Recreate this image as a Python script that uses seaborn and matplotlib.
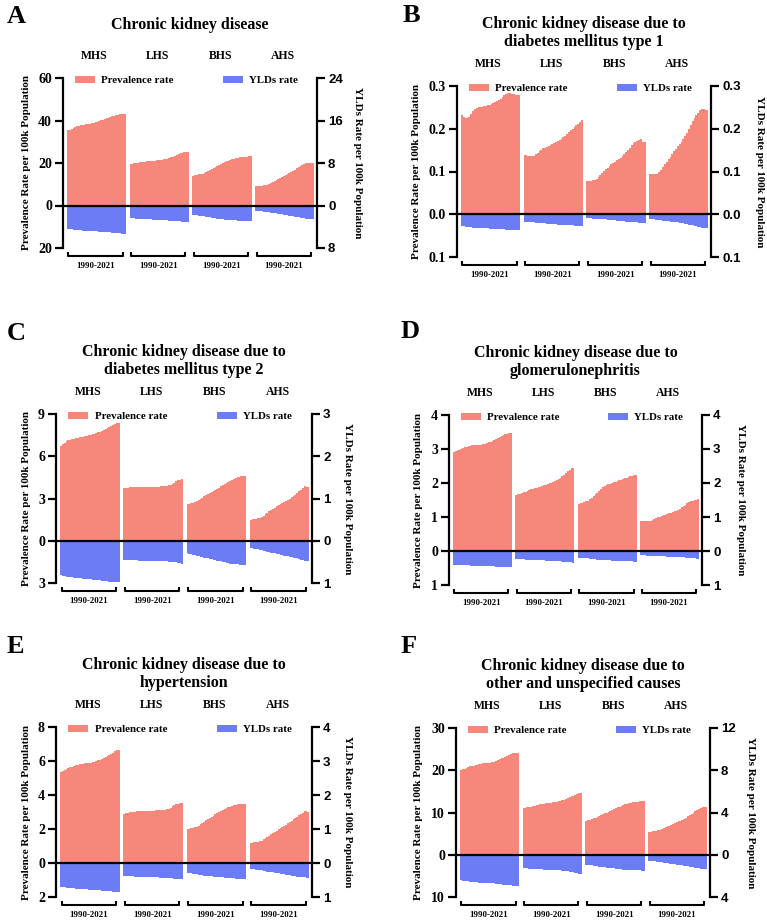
import matplotlib
matplotlib.use("Agg")
import matplotlib.pyplot as plt
import matplotlib.transforms as mtransforms
from matplotlib.patches import Patch
import numpy as np
import pandas as pd
import seaborn as sns

sns.set_theme(style="ticks")
plt.rcParams["font.family"] = ["Liberation Serif", "DejaVu Serif"]
plt.rcParams["font.weight"] = "bold"
for key in ["text.color", "axes.labelcolor", "xtick.color", "ytick.color", "axes.edgecolor"]:
    plt.rcParams[key] = "black"

groups = ["MHS", "LHS", "BHS", "AHS"]
year_label = "1990-2021"
PREV_C = "#F8877B"
YLD_C = "#6C7CF5"

# ---- data: rates per 100k, 1990..2021, one list per region (MHS, LHS, BHS, AHS)
a_prev = [
    [35.3, 35.6, 36.0, 36.4, 36.8, 37.2, 37.5, 37.8, 38.0, 38.1, 38.2, 38.3, 38.4, 38.6, 38.9, 39.2,
     39.5, 39.8, 40.1, 40.4, 40.7, 41.0, 41.3, 41.6, 42.0, 42.3, 42.6, 42.8, 42.9, 43.0, 43.0, 42.9],
    [19.4, 19.6, 19.8, 20.0, 20.2, 20.4, 20.5, 20.6, 20.7, 20.8, 20.8, 20.9, 21.0, 21.1, 21.2, 21.3,
     21.4, 21.5, 21.7, 21.9, 22.1, 22.3, 22.6, 22.9, 23.3, 23.7, 24.1, 24.5, 24.8, 25.0, 25.1, 25.1],
    [14.0, 14.2, 14.4, 14.6, 14.8, 15.0, 15.3, 15.8, 16.3, 16.8, 17.3, 17.8, 18.3, 18.8, 19.2, 19.6,
     20.0, 20.4, 20.8, 21.1, 21.4, 21.7, 22.0, 22.2, 22.4, 22.6, 22.7, 22.8, 22.9, 23.0, 23.1, 23.1],
    [9.1, 9.2, 9.3, 9.4, 9.5, 9.6, 9.8, 10.2, 10.6, 11.0, 11.4, 11.8, 12.3, 12.8, 13.3, 13.8,
     14.3, 14.8, 15.3, 15.8, 16.3, 16.9, 17.5, 18.1, 18.7, 19.2, 19.6, 19.9, 20.1, 20.2, 20.1, 20.0],
]
a_ylds = [
    [4.40, 4.45, 4.50, 4.55, 4.60, 4.63, 4.66, 4.69, 4.72, 4.74, 4.76, 4.78, 4.80, 4.82, 4.84, 4.86,
     4.88, 4.90, 4.92, 4.95, 4.98, 5.01, 5.04, 5.07, 5.10, 5.14, 5.18, 5.22, 5.26, 5.30, 5.32, 5.33],
    [2.40, 2.42, 2.44, 2.46, 2.48, 2.50, 2.52, 2.54, 2.56, 2.58, 2.60, 2.62, 2.64, 2.66, 2.68, 2.70,
     2.72, 2.74, 2.76, 2.78, 2.80, 2.83, 2.86, 2.89, 2.92, 2.95, 2.98, 3.01, 3.04, 3.07, 3.09, 3.10],
    [1.75, 1.80, 1.85, 1.90, 1.95, 2.00, 2.06, 2.12, 2.18, 2.24, 2.30, 2.36, 2.41, 2.46, 2.51, 2.56,
     2.60, 2.64, 2.68, 2.72, 2.75, 2.78, 2.80, 2.82, 2.84, 2.86, 2.87, 2.88, 2.89, 2.90, 2.90, 2.90],
    [1.05, 1.07, 1.09, 1.11, 1.13, 1.15, 1.20, 1.26, 1.32, 1.38, 1.44, 1.50, 1.56, 1.62, 1.68, 1.74,
     1.80, 1.86, 1.92, 1.98, 2.04, 2.10, 2.17, 2.24, 2.31, 2.38, 2.44, 2.50, 2.54, 2.56, 2.56, 2.56],
]

b_prev = [
    [0.231, 0.228, 0.225, 0.225, 0.227, 0.235, 0.242, 0.247, 0.249, 0.250, 0.251, 0.252, 0.253, 0.254, 0.255, 0.256,
     0.258, 0.260, 0.262, 0.264, 0.267, 0.270, 0.274, 0.278, 0.282, 0.283, 0.283, 0.282, 0.281, 0.280, 0.280, 0.279],
    [0.139, 0.138, 0.137, 0.136, 0.136, 0.137, 0.140, 0.144, 0.148, 0.151, 0.154, 0.156, 0.158, 0.160, 0.162, 0.164,
     0.166, 0.168, 0.171, 0.174, 0.177, 0.180, 0.184, 0.188, 0.192, 0.196, 0.200, 0.204, 0.208, 0.212, 0.216, 0.220],
    [0.078, 0.078, 0.078, 0.079, 0.080, 0.082, 0.087, 0.092, 0.097, 0.101, 0.105, 0.109, 0.113, 0.117, 0.120, 0.123,
     0.126, 0.129, 0.132, 0.136, 0.140, 0.145, 0.150, 0.156, 0.162, 0.167, 0.170, 0.172, 0.174, 0.175, 0.168, 0.170],
    [0.093, 0.093, 0.093, 0.094, 0.095, 0.098, 0.103, 0.110, 0.117, 0.123, 0.129, 0.135, 0.141, 0.147, 0.153, 0.159,
     0.165, 0.170, 0.176, 0.183, 0.191, 0.199, 0.208, 0.217, 0.225, 0.232, 0.238, 0.243, 0.246, 0.246, 0.244, 0.243],
]
b_ylds = [
    [0.028, 0.028, 0.029, 0.029, 0.030, 0.030, 0.031, 0.031, 0.032, 0.032, 0.032, 0.033, 0.033, 0.033, 0.033, 0.034,
     0.034, 0.034, 0.034, 0.035, 0.035, 0.035, 0.035, 0.035, 0.036, 0.036, 0.036, 0.036, 0.036, 0.036, 0.036, 0.036],
    [0.018, 0.018, 0.018, 0.019, 0.019, 0.019, 0.020, 0.020, 0.020, 0.021, 0.021, 0.021, 0.022, 0.022, 0.022, 0.023,
     0.023, 0.023, 0.024, 0.024, 0.024, 0.025, 0.025, 0.025, 0.026, 0.026, 0.026, 0.027, 0.027, 0.027, 0.028, 0.028],
    [0.009, 0.009, 0.009, 0.010, 0.010, 0.010, 0.011, 0.011, 0.012, 0.012, 0.012, 0.013, 0.013, 0.014, 0.014, 0.014,
     0.015, 0.015, 0.016, 0.016, 0.016, 0.017, 0.017, 0.018, 0.018, 0.019, 0.019, 0.019, 0.020, 0.020, 0.020, 0.020],
    [0.012, 0.012, 0.012, 0.013, 0.013, 0.014, 0.014, 0.015, 0.015, 0.016, 0.016, 0.017, 0.017, 0.018, 0.018, 0.019,
     0.020, 0.020, 0.021, 0.022, 0.023, 0.024, 0.025, 0.026, 0.027, 0.028, 0.029, 0.030, 0.031, 0.031, 0.032, 0.032],
]

c_prev = [
    [6.75, 6.85, 6.95, 7.05, 7.12, 7.18, 7.22, 7.26, 7.30, 7.33, 7.36, 7.38, 7.40, 7.42, 7.45, 7.48,
     7.52, 7.56, 7.60, 7.65, 7.70, 7.75, 7.80, 7.86, 7.92, 7.98, 8.05, 8.12, 8.20, 8.28, 8.34, 8.38],
    [3.72, 3.75, 3.77, 3.79, 3.80, 3.81, 3.81, 3.82, 3.82, 3.82, 3.82, 3.82, 3.82, 3.82, 3.82, 3.83,
     3.83, 3.84, 3.84, 3.85, 3.86, 3.87, 3.88, 3.90, 3.93, 3.98, 4.05, 4.13, 4.21, 4.28, 4.33, 4.35],
    [2.59, 2.63, 2.67, 2.71, 2.75, 2.79, 2.86, 2.95, 3.05, 3.15, 3.25, 3.33, 3.40, 3.47, 3.54, 3.62,
     3.70, 3.78, 3.86, 3.94, 4.02, 4.10, 4.18, 4.26, 4.34, 4.42, 4.48, 4.52, 4.55, 4.57, 4.58, 4.59],
    [1.48, 1.51, 1.54, 1.57, 1.60, 1.64, 1.69, 1.78, 1.88, 1.98, 2.08, 2.18, 2.27, 2.36, 2.44, 2.52,
     2.60, 2.68, 2.76, 2.84, 2.92, 3.00, 3.09, 3.18, 3.28, 3.38, 3.50, 3.62, 3.74, 3.86, 3.84, 3.81],
]
c_ylds = [
    [0.82, 0.83, 0.84, 0.85, 0.855, 0.86, 0.865, 0.87, 0.875, 0.88, 0.885, 0.89, 0.895, 0.90, 0.905, 0.91,
     0.915, 0.92, 0.925, 0.93, 0.935, 0.94, 0.945, 0.95, 0.955, 0.96, 0.965, 0.97, 0.975, 0.98, 0.98, 0.98],
    [0.455, 0.457, 0.459, 0.461, 0.463, 0.465, 0.466, 0.467, 0.468, 0.469, 0.470, 0.471, 0.472, 0.473, 0.474, 0.475,
     0.476, 0.477, 0.478, 0.480, 0.482, 0.484, 0.486, 0.489, 0.492, 0.496, 0.501, 0.507, 0.514, 0.522, 0.531, 0.540],
    [0.30, 0.31, 0.32, 0.33, 0.34, 0.35, 0.36, 0.375, 0.39, 0.40, 0.41, 0.42, 0.43, 0.44, 0.45, 0.46,
     0.47, 0.48, 0.49, 0.50, 0.51, 0.52, 0.53, 0.54, 0.545, 0.55, 0.555, 0.56, 0.565, 0.57, 0.57, 0.57],
    [0.17, 0.18, 0.185, 0.19, 0.20, 0.21, 0.22, 0.235, 0.25, 0.26, 0.27, 0.28, 0.29, 0.30, 0.31, 0.32,
     0.33, 0.34, 0.35, 0.36, 0.37, 0.38, 0.39, 0.40, 0.41, 0.42, 0.43, 0.445, 0.46, 0.475, 0.485, 0.49],
]

d_prev = [
    [2.92, 2.94, 2.96, 2.98, 3.00, 3.03, 3.05, 3.07, 3.09, 3.10, 3.11, 3.12, 3.12, 3.12, 3.12, 3.13,
     3.14, 3.16, 3.18, 3.20, 3.22, 3.24, 3.26, 3.28, 3.31, 3.34, 3.37, 3.40, 3.43, 3.45, 3.46, 3.46],
    [1.66, 1.67, 1.69, 1.71, 1.73, 1.75, 1.77, 1.79, 1.81, 1.83, 1.85, 1.86, 1.87, 1.89, 1.91, 1.93,
     1.95, 1.97, 1.99, 2.01, 2.04, 2.07, 2.10, 2.13, 2.16, 2.20, 2.24, 2.29, 2.34, 2.39, 2.43, 2.45],
    [1.38, 1.40, 1.42, 1.44, 1.46, 1.48, 1.52, 1.57, 1.62, 1.67, 1.72, 1.77, 1.82, 1.87, 1.91, 1.94,
     1.96, 1.98, 2.00, 2.02, 2.04, 2.06, 2.08, 2.10, 2.12, 2.14, 2.16, 2.18, 2.20, 2.22, 2.24, 2.25],
    [0.87, 0.87, 0.87, 0.87, 0.88, 0.88, 0.90, 0.93, 0.96, 0.99, 1.01, 1.03, 1.05, 1.07, 1.09, 1.11,
     1.13, 1.15, 1.17, 1.19, 1.22, 1.25, 1.28, 1.32, 1.36, 1.40, 1.43, 1.46, 1.48, 1.50, 1.51, 1.52],
]
d_ylds = [
    [0.40, 0.40, 0.41, 0.41, 0.41, 0.42, 0.42, 0.42, 0.42, 0.43, 0.43, 0.43, 0.43, 0.43, 0.44, 0.44,
     0.44, 0.44, 0.44, 0.45, 0.45, 0.45, 0.45, 0.46, 0.46, 0.46, 0.46, 0.47, 0.47, 0.47, 0.48, 0.48],
    [0.23, 0.23, 0.24, 0.24, 0.24, 0.25, 0.25, 0.25, 0.26, 0.26, 0.26, 0.26, 0.27, 0.27, 0.27, 0.27,
     0.28, 0.28, 0.28, 0.28, 0.29, 0.29, 0.29, 0.30, 0.30, 0.31, 0.31, 0.32, 0.32, 0.33, 0.33, 0.34],
    [0.20, 0.20, 0.21, 0.21, 0.22, 0.22, 0.23, 0.23, 0.24, 0.24, 0.25, 0.25, 0.26, 0.26, 0.26, 0.27,
     0.27, 0.27, 0.28, 0.28, 0.28, 0.28, 0.29, 0.29, 0.29, 0.29, 0.30, 0.30, 0.30, 0.30, 0.31, 0.31],
    [0.13, 0.13, 0.13, 0.14, 0.14, 0.14, 0.15, 0.15, 0.15, 0.15, 0.16, 0.16, 0.16, 0.16, 0.17, 0.17,
     0.17, 0.17, 0.18, 0.18, 0.18, 0.19, 0.19, 0.19, 0.20, 0.20, 0.21, 0.21, 0.22, 0.22, 0.23, 0.23],
]

e_prev = [
    [5.34, 5.40, 5.46, 5.52, 5.58, 5.63, 5.67, 5.71, 5.75, 5.78, 5.80, 5.82, 5.84, 5.86, 5.87, 5.88,
     5.90, 5.93, 5.96, 5.99, 6.03, 6.07, 6.11, 6.16, 6.21, 6.27, 6.34, 6.42, 6.50, 6.58, 6.62, 6.64],
    [2.90, 2.93, 2.96, 2.98, 3.00, 3.01, 3.02, 3.03, 3.03, 3.04, 3.04, 3.05, 3.05, 3.06, 3.06, 3.07,
     3.08, 3.09, 3.10, 3.11, 3.12, 3.13, 3.14, 3.16, 3.20, 3.26, 3.33, 3.40, 3.46, 3.50, 3.53, 3.54],
    [1.98, 2.01, 2.04, 2.07, 2.10, 2.14, 2.20, 2.27, 2.35, 2.43, 2.51, 2.58, 2.65, 2.72, 2.79, 2.86,
     2.92, 2.98, 3.04, 3.10, 3.16, 3.22, 3.27, 3.32, 3.37, 3.41, 3.44, 3.46, 3.47, 3.48, 3.48, 3.48],
    [1.18, 1.20, 1.22, 1.24, 1.26, 1.28, 1.32, 1.39, 1.46, 1.53, 1.60, 1.68, 1.76, 1.84, 1.91, 1.98,
     2.05, 2.12, 2.19, 2.26, 2.33, 2.40, 2.48, 2.56, 2.64, 2.72, 2.80, 2.88, 2.96, 3.03, 3.04, 3.02],
]
e_ylds = [
    [0.71, 0.715, 0.72, 0.725, 0.73, 0.735, 0.74, 0.745, 0.75, 0.755, 0.76, 0.764, 0.768, 0.772, 0.776, 0.78,
     0.784, 0.788, 0.792, 0.796, 0.80, 0.805, 0.81, 0.815, 0.82, 0.825, 0.83, 0.835, 0.84, 0.845, 0.85, 0.85],
    [0.38, 0.38, 0.385, 0.39, 0.39, 0.395, 0.40, 0.40, 0.405, 0.41, 0.41, 0.41, 0.415, 0.415, 0.42, 0.42,
     0.42, 0.425, 0.425, 0.43, 0.43, 0.435, 0.44, 0.44, 0.445, 0.45, 0.455, 0.46, 0.465, 0.47, 0.475, 0.48],
    [0.28, 0.29, 0.30, 0.31, 0.32, 0.33, 0.34, 0.35, 0.36, 0.37, 0.38, 0.385, 0.39, 0.395, 0.40, 0.405,
     0.41, 0.415, 0.42, 0.425, 0.43, 0.435, 0.44, 0.445, 0.45, 0.455, 0.46, 0.465, 0.47, 0.475, 0.48, 0.48],
    [0.18, 0.185, 0.19, 0.195, 0.20, 0.21, 0.22, 0.23, 0.24, 0.25, 0.26, 0.27, 0.275, 0.28, 0.29, 0.30,
     0.31, 0.32, 0.33, 0.34, 0.35, 0.36, 0.37, 0.38, 0.39, 0.40, 0.41, 0.415, 0.42, 0.425, 0.43, 0.43],
]

f_prev = [
    [20.0, 20.2, 20.4, 20.6, 20.8, 20.9, 21.0, 21.1, 21.2, 21.3, 21.4, 21.5, 21.6, 21.6, 21.7, 21.7,
     21.8, 21.9, 22.0, 22.2, 22.4, 22.6, 22.8, 23.0, 23.2, 23.4, 23.6, 23.8, 24.0, 24.1, 24.1, 24.1],
    [11.0, 11.1, 11.2, 11.3, 11.4, 11.5, 11.6, 11.7, 11.8, 11.9, 12.0, 12.1, 12.2, 12.2, 12.3, 12.3,
     12.4, 12.5, 12.6, 12.7, 12.8, 12.9, 13.0, 13.2, 13.4, 13.6, 13.8, 14.0, 14.2, 14.4, 14.6, 14.7],
    [8.1, 8.2, 8.3, 8.4, 8.6, 8.8, 9.0, 9.2, 9.4, 9.6, 9.8, 10.0, 10.2, 10.4, 10.6, 10.8,
     11.0, 11.2, 11.4, 11.6, 11.8, 12.0, 12.1, 12.2, 12.3, 12.4, 12.5, 12.6, 12.6, 12.7, 12.7, 12.7],
    [5.5, 5.5, 5.6, 5.6, 5.7, 5.8, 5.9, 6.1, 6.3, 6.5, 6.7, 6.9, 7.1, 7.3, 7.5, 7.7,
     7.9, 8.1, 8.3, 8.5, 8.8, 9.1, 9.4, 9.7, 10.0, 10.3, 10.6, 10.9, 11.1, 11.3, 11.4, 11.4],
]
f_ylds = [
    [2.41, 2.44, 2.47, 2.50, 2.52, 2.54, 2.56, 2.58, 2.60, 2.62, 2.63, 2.64, 2.65, 2.66, 2.67, 2.68,
     2.69, 2.70, 2.72, 2.74, 2.76, 2.78, 2.80, 2.82, 2.84, 2.86, 2.88, 2.90, 2.92, 2.94, 2.96, 2.98],
    [1.25, 1.27, 1.29, 1.31, 1.33, 1.34, 1.35, 1.36, 1.37, 1.38, 1.39, 1.40, 1.41, 1.42, 1.43, 1.44,
     1.45, 1.46, 1.47, 1.48, 1.49, 1.50, 1.52, 1.54, 1.56, 1.59, 1.62, 1.65, 1.69, 1.73, 1.78, 1.82],
    [0.94, 0.96, 0.98, 1.00, 1.03, 1.06, 1.09, 1.12, 1.15, 1.18, 1.20, 1.22, 1.24, 1.26, 1.28, 1.30,
     1.32, 1.34, 1.36, 1.38, 1.40, 1.41, 1.42, 1.43, 1.44, 1.45, 1.46, 1.47, 1.48, 1.49, 1.50, 1.50],
    [0.56, 0.58, 0.60, 0.62, 0.64, 0.67, 0.70, 0.73, 0.76, 0.79, 0.82, 0.85, 0.87, 0.89, 0.91, 0.93,
     0.95, 0.98, 1.01, 1.04, 1.07, 1.10, 1.13, 1.16, 1.19, 1.22, 1.25, 1.28, 1.31, 1.34, 1.36, 1.38],
]

titles = [
    "Chronic kidney disease",
    "Chronic kidney disease due to\ndiabetes mellitus type 1",
    "Chronic kidney disease due to\ndiabetes mellitus type 2",
    "Chronic kidney disease due to\nglomerulonephritis",
    "Chronic kidney disease due to\nhypertension",
    "Chronic kidney disease due to\nother and unspecified causes",
]
letters = ["A", "B", "C", "D", "E", "F"]

# axis ticks (negative side shows YLDs, labelled as absolute values)
left_ticks = [[-20, 0, 20, 40, 60], [-0.1, 0, 0.1, 0.2, 0.3], [-3, 0, 3, 6, 9],
              [-1, 0, 1, 2, 3, 4], [-2, 0, 2, 4, 6, 8], [-10, 0, 10, 20, 30]]
right_ticks = [[-8, 0, 8, 16, 24], [-0.1, 0, 0.1, 0.2, 0.3], [-1, 0, 1, 2, 3],
               [-1, 0, 1, 2, 3, 4], [-1, 0, 1, 2, 3, 4], [-4, 0, 4, 8, 12]]
tick_fmt = ["{:.0f}", "{:.1f}", "{:.0f}", "{:.0f}", "{:.0f}", "{:.0f}"]

# ---- layout (pixels of the 767x924 figure)
W, H = 767, 924
boxes = [(63, 78, 317, 248), (457, 86, 711, 257), (56, 414, 312, 583),
         (449, 415, 702, 585), (56, 727, 312, 897), (456, 728, 710, 897)]
letter_pos = [(7, 5), (403, 4), (7, 322), (401, 320), (7, 635), (401, 635)]
label_x = [(-0.142, 1.161), (-0.161, 1.19), (-0.117, 1.14),
           (-0.119, 1.154), (-0.117, 1.14), (-0.146, 1.16)]

fig = plt.figure(figsize=(W / 100, H / 100), dpi=100)


def draw_panel(k, prev, ylds):
    l, t, r, b = boxes[k]
    hpx = b - t
    ax = fig.add_axes([l / W, 1 - b / H, (r - l) / W, hpx / H])
    ax2 = ax.twinx()

    df = pd.DataFrame({
        "pos": [g * 34 + i for g in range(4) for i in range(32)],
        "prev": np.concatenate(prev),
        "ylds": -np.concatenate(ylds),
    })
    sns.barplot(data=df, x="pos", y="prev", native_scale=True, width=1, color=PREV_C,
                saturation=1, linewidth=0, errorbar=None, ax=ax)
    sns.barplot(data=df, x="pos", y="ylds", native_scale=True, width=1, color=YLD_C,
                saturation=1, linewidth=0, errorbar=None, ax=ax2)

    ax.set_xlim(-2.66, 134.96)
    lt, rt = left_ticks[k], right_ticks[k]
    ax.set_ylim(lt[0], lt[-1])
    ax2.set_ylim(rt[0], rt[-1])
    ax2.axhline(0, color="black", lw=1.6, zorder=5)

    ax.set_yticks(lt)
    ax.set_yticklabels([tick_fmt[k].format(abs(v)) for v in lt], fontsize=10, fontweight="bold")
    ax2.set_yticks(rt)
    ax2.set_yticklabels([tick_fmt[k].format(abs(v)) for v in rt], fontsize=9.5,
                        fontweight="bold", fontfamily="Liberation Sans")
    for a in (ax, ax2):
        a.set_xlabel("")
        a.set_ylabel("")
        a.tick_params(axis="x", bottom=False, labelbottom=False)
        a.tick_params(axis="y", length=6, width=1.6, direction="out", pad=2, colors="black")
        for s in a.spines.values():
            s.set_visible(False)
    ax.spines["left"].set_visible(True)
    ax.spines["left"].set_linewidth(1.6)
    ax2.spines["right"].set_visible(True)
    ax2.spines["right"].set_linewidth(1.6)

    # legends
    leg_kw = dict(loc="center left", frameon=False, handlelength=1.85, handleheight=0.65,
                  handletextpad=0.6, borderpad=0, borderaxespad=0, fontsize=7.8)
    ax.legend(handles=[Patch(color=PREV_C, lw=0)], labels=["Prevalence rate"],
              bbox_to_anchor=(0.047, 0.985), **leg_kw)
    ax2.legend(handles=[Patch(color=YLD_C, lw=0)], labels=["YLDs rate"],
               bbox_to_anchor=(0.628, 0.985), **leg_kw)

    # region names, brackets and year span
    trans = mtransforms.blended_transform_factory(ax.transData, ax.transAxes)
    for g, name in enumerate(groups):
        ax.text(g * 34 + 14.5, 1 + 22 / hpx, name, transform=trans, ha="center",
                va="center", fontsize=8.5)
        x0, x1 = g * 34 + 0.3, g * 34 + 29.7
        ax.plot([x0, x0, x1, x1], [-4 / hpx, -8 / hpx, -8 / hpx, -4 / hpx], transform=trans,
                clip_on=False, color="black", lw=1.5, solid_capstyle="butt")
        ax.text((x0 + x1) / 2, -18 / hpx, year_label, transform=trans, ha="center",
                va="center", fontsize=6.3)

    ax.text(0.5, 1 + 53 / hpx, titles[k], transform=ax.transAxes, ha="center",
            va="center", fontsize=11.5, linespacing=1.15)
    lx, rx = label_x[k]
    ax.text(lx, 0.5, "Prevalence Rate per 100k Population", transform=ax.transAxes,
            rotation=90, ha="center", va="center", fontsize=8)
    ax.text(rx, 0.5, "YLDs Rate per 100k Population", transform=ax.transAxes,
            rotation=270, ha="center", va="center", fontsize=8)

    px, py = letter_pos[k]
    fig.text(px / W, 1 - py / H, letters[k], ha="left", va="top", fontsize=19)


all_prev = [a_prev, b_prev, c_prev, d_prev, e_prev, f_prev]
all_ylds = [a_ylds, b_ylds, c_ylds, d_ylds, e_ylds, f_ylds]
for k in range(6):
    draw_panel(k, all_prev[k], all_ylds[k])

fig.savefig("out.png", dpi=100)
